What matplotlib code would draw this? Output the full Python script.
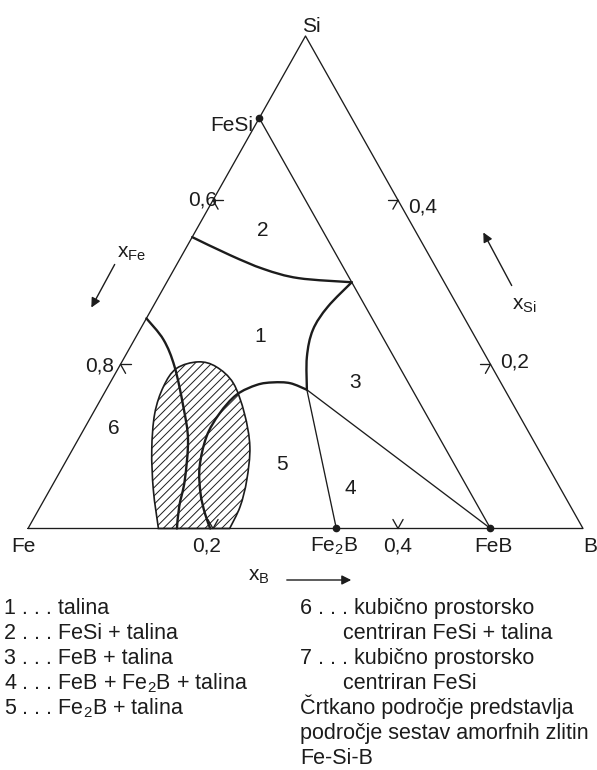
import numpy as np
import matplotlib
matplotlib.use("Agg")
import matplotlib.pyplot as plt
from matplotlib.path import Path
from matplotlib.patches import PathPatch, FancyArrowPatch

plt.rcParams['font.family'] = ['Liberation Sans', 'DejaVu Sans']
plt.rcParams['mathtext.fontset'] = 'custom'
plt.rcParams['mathtext.rm'] = 'Liberation Sans'
plt.rcParams['mathtext.it'] = 'Liberation Sans:italic'
plt.rcParams['hatch.linewidth'] = 0.7

INK = '#1c1c1c'
W, H = 597, 770

# sestave kot (x_B, x_Si), x_Fe = 1 - x_B - x_Si
corner_xb = [0.0, 0.6, 0.0]
corner_xsi = [0.0, 0.0, 0.6]

phase_xb = [0.0, 1 / 3, 0.5]          # FeSi, Fe2B, FeB
phase_xsi = [0.5, 0.0, 0.0]

# trojna tocka talina / Fe2B / FeB
eut_xb, eut_xsi = 0.217, 0.169

# meja 1|2
b12_xb = [0.0, 0.052, 0.097, 0.140, 0.200]
b12_xsi = [0.355, 0.333, 0.316, 0.305, 0.300]
# meja 1|3
b13_xb = [0.200, 0.189, 0.187, 0.197, 0.217]
b13_xsi = [0.300, 0.270, 0.242, 0.209, 0.169]
# meja 1|5 (kupola)
b15_xb = [0.217, 0.195, 0.176, 0.160, 0.144, 0.137, 0.137, 0.148, 0.165, 0.182, 0.197]
b15_xsi = [0.169, 0.177, 0.178, 0.175, 0.163, 0.140, 0.112, 0.075, 0.043, 0.0185, 0.0]
# meja 1|6
b16_xb = [0.0, 0.0315, 0.060, 0.094, 0.119, 0.140, 0.150, 0.161]
b16_xsi = [0.256, 0.230, 0.197, 0.148, 0.108, 0.059, 0.027, 0.0]

# crtkano podrocje amorfnih zlitin
amorph_xb = [0.141, 0.112, 0.086, 0.067, 0.060, 0.063, 0.0825, 0.105, 0.1335, 0.164, 0.190, 0.207, 0.216, 0.218]
amorph_xsi = [0.0, 0.047, 0.0956, 0.140, 0.173, 0.195, 0.203, 0.197, 0.177, 0.140, 0.0997, 0.059, 0.0266, 0.0]

tick_left = [0.4, 0.2]      # x_Si na robu Fe-Si
tick_left_lab = ['0,6', '0,8']
tick_right = [0.4, 0.2]     # x_Si na robu x_Fe = 0.4
tick_right_lab = ['0,4', '0,2']
tick_bottom = [0.2, 0.4]    # x_B
tick_bottom_lab = ['0,2', '0,4']

legend_left = ['1 . . . talina',
               '2 . . . FeSi + talina',
               '3 . . . FeB + talina',
               '4 . . . FeB + Fe$_2$B + talina',
               '5 . . . Fe$_2$B + talina']
legend_right = [('6 . . . kubično prostorsko', 0),
                ('centriran FeSi + talina', 1),
                ('7 . . . kubično prostorsko', 0),
                ('centriran FeSi', 1),
                ('Črtkano področje predstavlja', 0),
                ('področje sestav amorfnih zlitin', 0),
                ('Fe-Si-B', 0)]


def tern(xb, xsi):
    xb = np.asarray(xb, float)
    xsi = np.asarray(xsi, float)
    return xb + xsi / 2, xsi * np.sqrt(3) / 2


def smooth_path(xb, xsi, close_on_base=False):
    """Gladka krivulja (Catmull-Rom -> Bezier) skozi odcitane tocke."""
    x, y = tern(xb, xsi)
    p = np.column_stack([x, y])
    n = len(p)
    verts = [p[0]]
    codes = [Path.MOVETO]
    for i in range(n - 1):
        p0 = p[max(i - 1, 0)]
        p1, p2 = p[i], p[i + 1]
        p3 = p[min(i + 2, n - 1)]
        verts += [p1 + (p2 - p0) / 6, p2 - (p3 - p1) / 6, p2]
        codes += [Path.CURVE4] * 3
    if close_on_base:
        verts.append(p[0])
        codes.append(Path.CLOSEPOLY)
    return Path(verts, codes)


def ftext(px, py, s, **kw):
    kw.setdefault('color', INK)
    fig.text(px / W, 1 - py / H, s, **kw)


def farrow(x0, y0, x1, y1):
    fig.add_artist(FancyArrowPatch(
        (x0 / W, 1 - y0 / H), (x1 / W, 1 - y1 / H), transform=fig.transFigure,
        arrowstyle='-|>', mutation_scale=14, lw=1.0, color=INK))


fig = plt.figure(figsize=(W / 100, H / 100), dpi=100)
ax = fig.add_axes([0, 0, 1, 1])
ax.set_xlim(-0.03027, 0.61514)
ax.set_ylim(-0.2548, 0.5576)
ax.axis('off')

thin = dict(color=INK, lw=0.95, solid_capstyle='round')
thick = dict(color=INK, lw=1.7, fill=False, capstyle='round')

# trikotnik
cx, cy = tern(corner_xb + corner_xb[:1], corner_xsi + corner_xsi[:1])
ax.plot(cx, cy, **thin)

# veznice
for (a, b), (c, d) in [((phase_xb[0], phase_xsi[0]), (phase_xb[2], phase_xsi[2])),
                       ((phase_xb[1], phase_xsi[1]), (eut_xb, eut_xsi)),
                       ((eut_xb, eut_xsi), (phase_xb[2], phase_xsi[2]))]:
    lx, ly = tern([a, c], [b, d])
    ax.plot(lx, ly, **thin)

# amorfno podrocje
ax.add_patch(PathPatch(smooth_path(amorph_xb, amorph_xsi, True), facecolor='none',
                       edgecolor=INK, hatch='////', lw=1.2, zorder=2))

for bx, by in [(b12_xb, b12_xsi), (b13_xb, b13_xsi), (b15_xb, b15_xsi), (b16_xb, b16_xsi)]:
    ax.add_patch(PathPatch(smooth_path(bx, by), zorder=3, **thick))

px_, py_ = tern(phase_xb, phase_xsi)
ax.plot(px_, py_, 'o', color=INK, ms=4.5, zorder=4)

# oznake osi
d = 0.011
for s in tick_left:
    for dx, dy in [(d, 0), (d, -d)]:
        tx, ty = tern([0, dx], [s, s + dy])
        ax.plot(tx, ty, **thin)
for s in tick_right:
    b = 0.6 - s
    for dx, dy in [(-d, 0), (0, -d)]:
        tx, ty = tern([b, b + dx], [s, s + dy])
        ax.plot(tx, ty, **thin)
for b in tick_bottom:
    for dx, dy in [(0, d), (-d, d)]:
        tx, ty = tern([b, b + dx], [0, dy])
        ax.plot(tx, ty, **thin)

fs = 15
ftext(311.5, 32, 'Si', fontsize=fs, ha='center', va='baseline')
ftext(253, 131, 'FeSi', fontsize=fs, ha='right', va='baseline')
ftext(217, 206, tick_left_lab[0], fontsize=fs, ha='right', va='baseline')
ftext(114, 371, tick_left_lab[1], fontsize=fs, ha='right', va='baseline')
ftext(408, 213, tick_right_lab[0], fontsize=fs, ha='left', va='baseline')
ftext(500, 368, tick_right_lab[1], fontsize=fs, ha='left', va='baseline')
ftext(11.7, 552, 'Fe', fontsize=fs, ha='left', va='baseline')
ftext(207, 551, tick_bottom_lab[0], fontsize=fs, ha='center', va='baseline')
ftext(334, 552, 'Fe$_2$B', fontsize=fs, ha='center', va='baseline')
ftext(397.5, 551, tick_bottom_lab[1], fontsize=fs, ha='center', va='baseline')
ftext(493, 552, 'FeB', fontsize=fs, ha='center', va='baseline')
ftext(583, 552, 'B', fontsize=fs, ha='left', va='baseline')

ftext(117, 258, r'x$_{\mathrm{Fe}}$', fontsize=fs, ha='left', va='baseline')
ftext(511.7, 310, r'x$_{\mathrm{Si}}$', fontsize=fs, ha='left', va='baseline')
ftext(247.5, 581, r'x$_{\mathrm{B}}$', fontsize=fs, ha='left', va='baseline')
farrow(116, 262, 90, 310)
farrow(513, 288, 482, 230)
farrow(284, 580, 354, 580)

for num, (x0, y0) in zip('123456', [(260, 337), (263, 230), (355, 382), (350, 488), (282, 465), (114, 428)]):
    ftext(x0, y0, num, fontsize=fs, ha='center', va='center')

# legenda
lfs = 15.5
base, step = 614, 25
for i, s in enumerate(legend_left):
    ftext(4, base + i * step, s, fontsize=lfs, ha='left', va='baseline')
for i, (s, ind) in enumerate(legend_right):
    ftext(343 if ind else 300, base + i * step, s, fontsize=lfs, ha='left', va='baseline')

fig.savefig('out.png', dpi=100)
